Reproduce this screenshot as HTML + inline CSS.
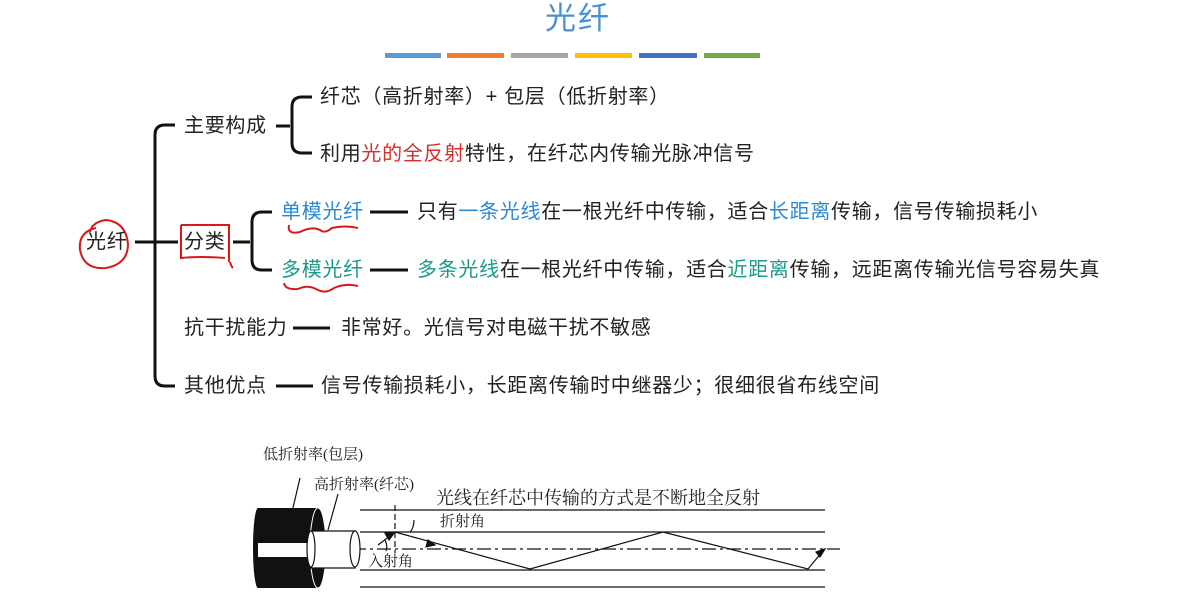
<!DOCTYPE html>
<html><head><meta charset="utf-8"><style>
body{margin:0;width:1192px;height:605px;background:#fff;overflow:hidden;position:relative;font-family:"Liberation Sans","Noto Sans CJK SC",sans-serif;}
.t{position:absolute;font-size:20px;letter-spacing:0.7px;color:#222;white-space:nowrap;line-height:24px;}
.s{font-family:'Liberation Serif','Noto Serif CJK SC',serif;letter-spacing:0;}
.r{color:#d0312d}.b{color:#2a8ad0}.g{color:#1a9a8a}
</style></head><body>
<div class="t" style="left:545px;top:2px;font-size:31px;line-height:34px;letter-spacing:2px;color:#4a90d0">光纤</div>
<div style="position:absolute;top:53px;left:385px;width:56px;height:5px;background:#5b9bd5"></div>
<div style="position:absolute;top:53px;left:447px;width:57px;height:5px;background:#ed7d31"></div>
<div style="position:absolute;top:53px;left:511px;width:57px;height:5px;background:#a5a5a5"></div>
<div style="position:absolute;top:53px;left:575px;width:57px;height:5px;background:#ffc000"></div>
<div style="position:absolute;top:53px;left:639px;width:58px;height:5px;background:#4472c4"></div>
<div style="position:absolute;top:53px;left:704px;width:56px;height:5px;background:#70ad47"></div>

<svg width="1192" height="605" style="position:absolute;left:0;top:0" fill="none">
<g stroke="#111" stroke-width="3">
<path d="M135 242H178"/>
<path d="M175 125H165Q155 125 155 135V376Q155 386 165 386H175"/>
<path d="M276 126H290"/>
<path d="M312 97H302Q292 97 292 107V143Q292 153 302 153H312"/>
<path d="M233 242H250"/>
<path d="M272 212H262Q252 212 252 222V260Q252 270 262 270H272"/>
<path d="M370 212H408M370 270H408M293 328H330M276 386H313"/>
</g>
<g stroke="#d8181c" stroke-width="2">
<path d="M96 228Q78 232 80 250Q84 270 106 268Q128 264 128 244Q126 222 106 220Q92 222 90 232"/>
<path d="M181 225H229V262M181 225V258Q200 256 225 258M230 262Q231 266 233 268"/>
<path d="M289 225Q287 235 300 232Q312 226 320 230Q325 234 332 228Q345 225 358 228"/>
<path d="M284 283Q285 290 298 289Q308 284 318 290Q326 294 334 288Q345 283 358 286"/>
</g>
<g stroke="#111" stroke-width="1.2">
<path d="M360 510H825M360 532H825M360 570H825M360 587H825"/>
<path d="M352 549H840" stroke-dasharray="14 4 3 4"/>
<path d="M395 505V553" stroke-dasharray="6 3"/>
<path d="M378 545L395 532L530 569L663 532L808 569L822 552"/>
<path d="M395 532L385 533L389 540Z M435 545L428 540L426 547Z M825 549L816 552L820 557Z" fill="#111"/>
<path d="M410 532Q414 528 414 520M385 540Q388 546 386 551"/>
<path d="M300 478L292 512M338 494L328 530"/>
</g>
<rect x="258" y="508" width="60" height="80" fill="#111"/>
<ellipse cx="258" cy="548" rx="5" ry="40" fill="#111"/>
<rect x="258" y="543" width="55" height="14" fill="#fff"/>
<ellipse cx="318" cy="548" rx="8" ry="40" fill="#111" stroke="#fff" stroke-width="1"/>
<path d="M311 531H355V568H311Z" fill="#fff" stroke="#111" stroke-width="1.2"/>
<ellipse cx="311" cy="549" rx="4" ry="18" fill="#fff" stroke="#111" stroke-width="1.2"/>
<ellipse cx="355" cy="549" rx="5" ry="18" fill="#fff" stroke="#111" stroke-width="1.2"/>
</svg>

<div class="t" style="left:86px;top:230px">光纤</div>
<div class="t" style="left:184px;top:114px">主要构成</div>
<div class="t" style="left:184px;top:230px">分类</div>
<div class="t" style="left:184px;top:316px">抗干扰能力</div>
<div class="t" style="left:184px;top:374px">其他优点</div>
<div class="t" style="left:320px;top:85px">纤芯（高折射率）+ 包层（低折射率）</div>
<div class="t" style="left:320px;top:142px">利用<span class="r">光的全反射</span>特性，在纤芯内传输光脉冲信号</div>
<div class="t b" style="left:281px;top:200px">单模光纤</div>
<div class="t g" style="left:281px;top:258px">多模光纤</div>
<div class="t" style="left:417px;top:200px">只有<span class="b">一条光线</span>在一根光纤中传输，适合<span class="b">长距离</span>传输，信号传输损耗小</div>
<div class="t" style="left:417px;top:258px"><span class="g">多条光线</span>在一根光纤中传输，适合<span class="g">近距离</span>传输，远距离传输光信号容易失真</div>
<div class="t" style="left:341px;top:316px">非常好。光信号对电磁干扰不敏感</div>
<div class="t" style="left:321px;top:374px">信号传输损耗小，长距离传输时中继器少；很细很省布线空间</div>
<div class="t s" style="left:263px;top:443px;font-size:15px">低折射率(包层)</div>
<div class="t s" style="left:314px;top:473px;font-size:15px">高折射率(纤芯)</div>
<div class="t s" style="left:436px;top:486px;font-size:18px">光线在纤芯中传输的方式是不断地全反射</div>
<div class="t s" style="left:440px;top:510px;font-size:15px">折射角</div>
<div class="t s" style="left:368px;top:550px;font-size:15px">入射角</div>
</body></html>
